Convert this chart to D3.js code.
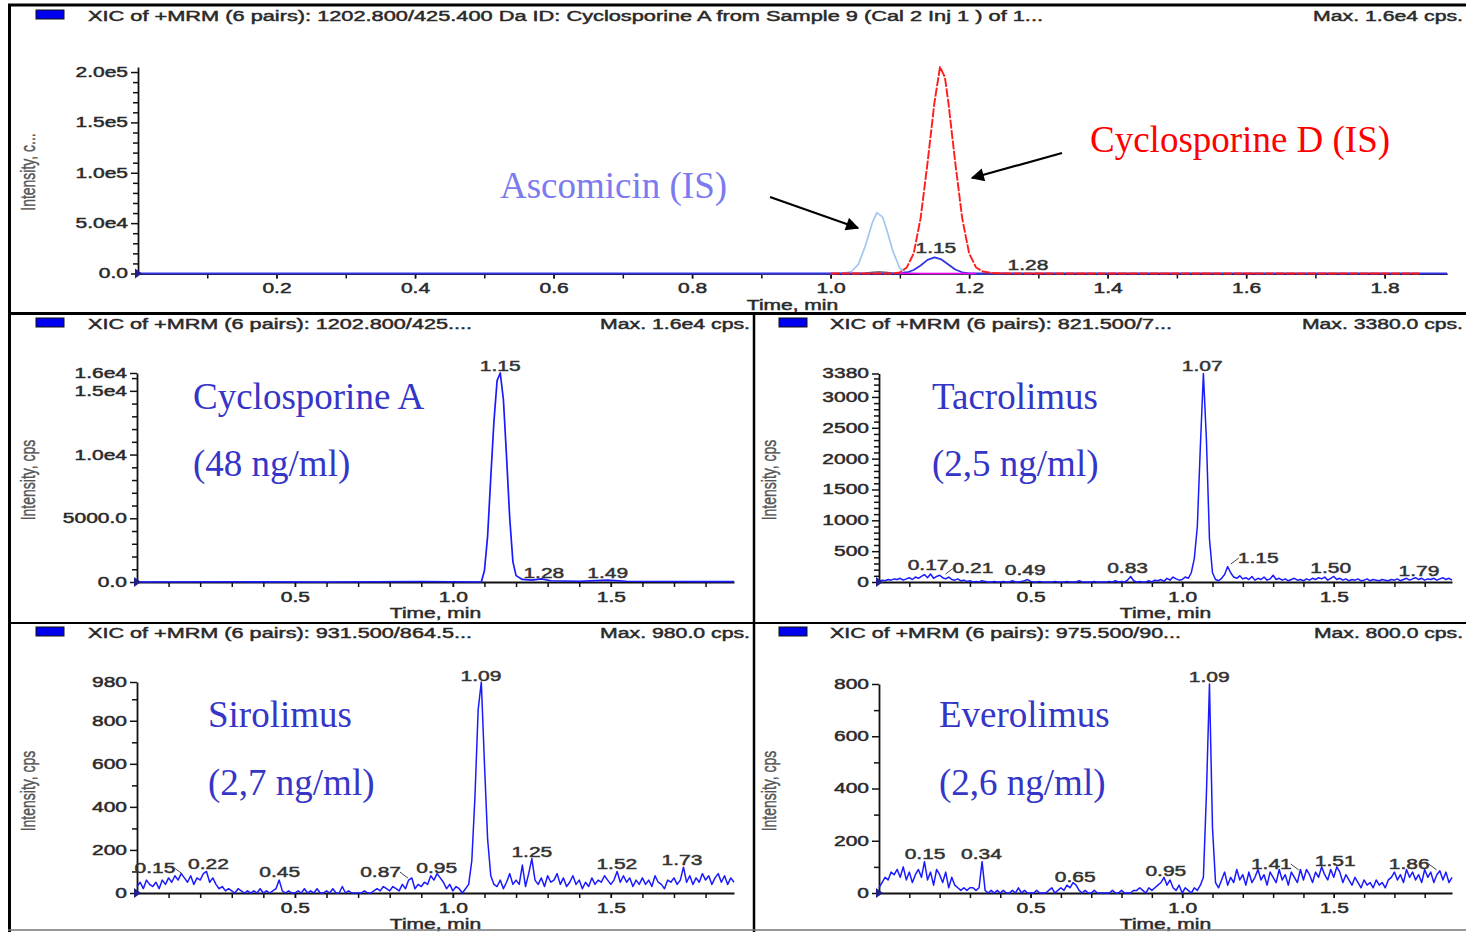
<!DOCTYPE html>
<html><head><meta charset="utf-8">
<script src="https://cdn.jsdelivr.net/npm/d3@7"></script>
<style>body{margin:0;background:#fff} svg{display:block}</style>
</head><body>
<svg id="chart" width="1466" height="932"></svg>
<script>
// ================= DATA =================
// sampling grid for the noisy MRM traces (minutes)
const sampleStart = 0.00, sampleStep = 0.01;

// Top panel (overlay of all XICs), intensity in cps
const cycloATopTimes  = [0, 1.10, 1.11, 1.12, 1.13, 1.14, 1.15, 1.16, 1.17, 1.18, 1.19, 1.20, 1.21, 1.89];
const cycloATopValues = [0, 0, 1000, 3500, 8000, 13500, 16000, 14000, 9000, 4000, 1200, 200, 0, 0];
const ascomicinTimes  = [0.90, 1.00, 1.02, 1.03, 1.04, 1.05, 1.06, 1.067, 1.075, 1.08, 1.09, 1.10, 1.11, 1.13, 1.25];
const ascomicinValues = [0, 0, 500, 2000, 9000, 27000, 50000, 60400, 56000, 46000, 22000, 5000, 800, 0, 0];
const cycloDTimes  = [1.00, 1.09, 1.10, 1.11, 1.12, 1.13, 1.14, 1.15, 1.158, 1.165, 1.17, 1.18, 1.19, 1.20, 1.21, 1.22, 1.23, 1.24, 1.26, 1.85];
const cycloDValues = [0, 0, 1000, 6000, 20000, 55000, 110000, 170000, 205000, 195000, 170000, 110000, 55000, 20000, 6000, 2000, 800, 300, 0, 0];
const grayTimes  = [1.03, 1.05, 1.06, 1.07, 1.08, 1.09, 1.10];
const grayValues = [0, 300, 1200, 1800, 1200, 300, 0];
const magentaTimes  = [1.10, 1.21];
const magentaValues = [0, 0];

// Cyclosporine A panel
const cycloATimes  = [0.00, 0.30, 0.60, 0.90, 1.09, 1.10, 1.11, 1.12, 1.13, 1.14, 1.15, 1.16, 1.17, 1.18, 1.19, 1.20, 1.22, 1.25, 1.28, 1.31, 1.40, 1.49, 1.55, 1.70, 1.89];
const cycloAValues = [0, 20, 0, 40, 0, 900, 3600, 8200, 12600, 15800, 16400, 14300, 9800, 5000, 1600, 500, 200, 150, 250, 100, 60, 150, 60, 40, 30];

// Tacrolimus (one value per 0.01 min, 0.00 .. 1.89)
const tacrolimusValues = [
 10,30,20,40,30,50,40,60,30,50,
 70,40,80,60,90,120,70,130,60,90,
 110,70,50,80,40,30,50,20,30,10,
 20,0,10,0,20,10,0,0,10,0,
 0,10,0,0,20,0,0,10,20,40,
 10,0,0,10,0,0,0,0,10,0,
 0,0,10,0,0,0,20,0,0,0,
 0,10,0,0,0,0,10,0,20,0,
 10,0,30,90,20,0,10,0,0,20,
 0,30,20,40,10,60,30,80,50,30,
 40,80,60,150,380,900,2200,3380,2300,700,
 150,40,20,60,120,250,150,80,60,100,
 50,70,40,90,30,60,40,80,30,50,
 110,40,60,30,50,20,40,60,30,40,
 20,50,30,60,40,70,50,80,30,60,
 90,40,60,30,50,20,40,30,50,20,
 30,50,20,40,30,20,40,30,20,40,
 30,50,20,40,60,30,50,70,40,60,
 30,50,40,60,30,50,70,40,60,30];

// Sirolimus
const sirolimusValues = [
 30,50,20,60,40,30,50,20,60,40,
 70,50,80,60,90,70,50,80,40,70,
 60,90,100,50,70,40,20,30,10,20,
 10,0,20,10,0,10,0,10,0,20,
 0,10,0,10,20,60,10,0,10,0,
 0,10,0,20,0,10,0,20,0,0,
 10,0,20,0,0,30,0,10,0,0,
 0,0,10,0,0,10,20,10,30,20,
 10,30,20,10,40,20,60,70,20,40,
 30,50,40,80,60,90,70,50,20,40,
 10,30,20,0,20,40,150,450,850,980,
 600,250,80,40,30,60,20,50,90,40,
 60,40,130,30,90,160,60,40,70,30,
 80,50,60,90,40,70,30,50,80,40,
 60,20,50,30,70,40,60,50,80,60,
 40,60,100,50,80,50,70,30,60,40,
 70,40,60,30,80,50,40,20,60,50,
 70,40,60,120,50,80,40,70,50,90,
 60,80,40,70,90,50,80,40,70,50];

// Everolimus
const everolimusValues = [
 20,40,60,50,80,70,90,60,100,50,
 80,40,70,90,60,120,50,80,30,90,
 70,40,80,20,60,30,20,10,20,10,
 20,20,10,20,120,10,0,10,0,10,
 0,10,0,0,10,0,20,0,10,0,
 0,0,10,0,0,0,10,20,0,10,
 20,10,30,20,40,30,10,0,10,0,
 0,10,0,0,0,0,0,10,0,0,
 10,0,0,0,10,10,20,10,0,20,
 10,20,30,40,60,30,50,20,10,30,
 0,20,10,0,20,10,30,60,380,800,
 250,40,20,50,80,30,60,40,90,50,
 70,30,80,40,60,90,50,70,30,80,
 60,40,90,50,70,30,80,60,40,90,
 50,90,70,40,80,60,100,70,50,90,
 60,100,80,40,70,50,30,60,40,20,
 50,30,40,20,50,30,40,20,50,60,
 80,50,70,40,90,60,80,50,70,40,
 90,60,80,40,70,85,50,80,40,60];

// Peak labels: [text, time, intensity, leader]
const topPeakLabels = [["1.15",1.152,20350],["1.28",1.285,3475]];
const cycloAPeakLabels = [["1.15",1.150,16557],["1.28",1.288,314],["1.49",1.490,314]];
const tacrolimusPeakLabels = [["1.07",1.066,3420],["0.17",0.162,195],["0.21",0.310,146,"left"],["0.49",0.482,113],["0.83",0.820,146],["1.15",1.251,308,"left"],["1.50",1.490,146],["1.79",1.781,97]];
const sirolimusPeakLabels = [["1.09",1.089,985],["0.15",0.057,93,"right"],["0.22",0.226,111],["0.45",0.452,74],["0.87",0.771,74,"right"],["0.95",0.949,93],["1.25",1.250,167],["1.52",1.519,111],["1.73",1.725,130]];
const everolimusPeakLabels = [["1.09",1.089,808],["0.15",0.152,130],["0.34",0.338,130],["0.65",0.647,42],["0.95",0.946,65],["1.41",1.294,92,"right"],["1.51",1.505,103],["1.86",1.749,92,"right"]];

// Axis ticks
const timeMax = 1.89;
const topXTicks = [0.2,0.4,0.6,0.8,1.0,1.2,1.4,1.6,1.8];
const topXLabels = ["0.2","0.4","0.6","0.8","1.0","1.2","1.4","1.6","1.8"];
const smallXTicks = [0.5,1.0,1.5];
const smallXLabels = ["0.5","1.0","1.5"];
const xMinorTicks = [0.1,0.2,0.3,0.4,0.5,0.6,0.7,0.8,0.9,1.0,1.1,1.2,1.3,1.4,1.5,1.6,1.7,1.8];

const topYTicks = [0,50000,100000,150000,200000];
const topYLabels = ["0.0","5.0e4","1.0e5","1.5e5","2.0e5"];
const cycloAYTicks = [0,5000,10000,15000,16400];
const cycloAYLabels = ["0.0","5000.0","1.0e4","1.5e4","1.6e4"];
const tacYTicks = [0,500,1000,1500,2000,2500,3000,3380];
const tacYLabels = ["0","500","1000","1500","2000","2500","3000","3380"];
const sirYTicks = [0,200,400,600,800,980];
const sirYLabels = ["0","200","400","600","800","980"];
const eveYTicks = [0,200,400,600,800];
const eveYLabels = ["0","200","400","600","800"];

// Headers
const headerTexts = [
 "XIC of +MRM (6 pairs): 1202.800/425.400 Da ID: Cyclosporine A from Sample 9 (Cal 2 Inj 1 ) of 1...",
 "XIC of +MRM (6 pairs): 1202.800/425....",
 "XIC of +MRM (6 pairs): 821.500/7...",
 "XIC of +MRM (6 pairs): 931.500/864.5...",
 "XIC of +MRM (6 pairs): 975.500/90..."];
const maxTexts = ["Max. 1.6e4 cps.","Max. 1.6e4 cps.","Max. 3380.0 cps.","Max. 980.0 cps.","Max. 800.0 cps."];
const yTitles = ["Intensity, c...","Intensity, cps","Intensity, cps","Intensity, cps","Intensity, cps"];

// ================= DRAWING =================
const svg = d3.select('#chart');
const STRETCH = 1.5;
const SANS = '"Liberation Sans", Arial, sans-serif';
const SERIF = '"Liberation Serif", "Times New Roman", serif';
const TXT = '#2a2a2a';
const TXT_STROKE = 0.45;

const grid = vals => vals.map((v,i) => [+(sampleStart + i*sampleStep).toFixed(2), v]);
const pairs = (ts, vs) => d3.zip(ts, vs);

function sText(g, x, y, str, anchor, size=14, fill=TXT) {
  return g.append('text')
    .attr('transform', `translate(${x},${y}) scale(${STRETCH},1)`)
    .attr('text-anchor', anchor).attr('font-family', SANS)
    .attr('font-size', size).attr('fill', fill)
    .attr('stroke', fill).attr('stroke-width', TXT_STROKE).text(str);
}

const panels = [
 {key:'top', px:[138,1447], py:[273.5,67], yMax:205000, xT:topXTicks, xL:topXLabels, yT:topYTicks, yL:topYLabels, yMinor:10000,
  sq:[36,10], hx:[88,1043], hy:21, mx:[1313,1463], title:[28,172], labels:topPeakLabels},
 {key:'ml', px:[137,734], py:[582,373], yMax:16400, xT:smallXTicks, xL:smallXLabels, yT:cycloAYTicks, yL:cycloAYLabels, yMinor:1000,
  sq:[36,318], hx:[88,472], hy:329, mx:[600,750], title:[28,480], labels:cycloAPeakLabels},
 {key:'mr', px:[879,1452], py:[582,373.5], yMax:3380, xT:smallXTicks, xL:smallXLabels, yT:tacYTicks, yL:tacYLabels, yMinor:100,
  sq:[779,318], hx:[830,1172], hy:329, mx:[1302,1463], title:[769,480], labels:tacrolimusPeakLabels},
 {key:'bl', px:[137,734], py:[893,682], yMax:980, xT:smallXTicks, xL:smallXLabels, yT:sirYTicks, yL:sirYLabels, yMinor:100,
  sq:[36,627], hx:[88,472], hy:638, mx:[600,750], title:[28,791], labels:sirolimusPeakLabels},
 {key:'br', px:[879,1452], py:[893,684], yMax:800, xT:smallXTicks, xL:smallXLabels, yT:eveYTicks, yL:eveYLabels, yMinor:100,
  sq:[779,627], hx:[830,1181], hy:638, mx:[1314,1463], title:[769,791], labels:everolimusPeakLabels},
];

const traces = {
 top: [
  {pts: pairs(ascomicinTimes, ascomicinValues), color:'#a2c6f0', w:1.7},
  {pts: pairs(grayTimes, grayValues), color:'#777', w:1.5},
  {pts: pairs(cycloATopTimes, cycloATopValues), color:'#3434e6', w:1.8},
  {pts: pairs(cycloDTimes, cycloDValues), color:'#ff1c1c', w:1.9, dash:'9,1.5'},
  {pts: pairs(magentaTimes, magentaValues), color:'#ff00ff', w:1.7}],
 ml: [{pts: pairs(cycloATimes, cycloAValues), color:'#1a1aff', w:1.7}],
 mr: [{pts: grid(tacrolimusValues), color:'#1a1aff', w:1.5}],
 bl: [{pts: grid(sirolimusValues), color:'#1a1aff', w:1.5}],
 br: [{pts: grid(everolimusValues), color:'#1a1aff', w:1.5}],
};

panels.forEach((p, idx) => {
  const g = svg.append('g');
  const x = d3.scaleLinear().domain([0, timeMax]).range(p.px);
  const y = d3.scaleLinear().domain([0, p.yMax]).range(p.py);

  // header
  g.append('rect').attr('x', p.sq[0]).attr('y', p.sq[1]).attr('width', 28).attr('height', 9)
    .attr('fill', '#0000f0').attr('stroke', '#111').attr('stroke-width', 1);
  g.append('text').attr('x', p.hx[0]).attr('y', p.hy).attr('font-family', SANS).attr('font-size', 14)
    .attr('fill', TXT).attr('stroke', TXT).attr('stroke-width', TXT_STROKE)
    .attr('textLength', p.hx[1]-p.hx[0]).attr('lengthAdjust','spacingAndGlyphs').text(headerTexts[idx]);
  g.append('text').attr('x', p.mx[0]).attr('y', p.hy).attr('font-family', SANS).attr('font-size', 14)
    .attr('fill', TXT).attr('stroke', TXT).attr('stroke-width', TXT_STROKE)
    .attr('textLength', p.mx[1]-p.mx[0]).attr('lengthAdjust','spacingAndGlyphs').text(maxTexts[idx]);

  // y title
  g.append('text')
    .attr('transform', `translate(${p.title[0]},${p.title[1]}) scale(${STRETCH},1) rotate(-90)`)
    .attr('text-anchor','middle').attr('dy','0.35em').attr('font-family', SANS).attr('font-size', 14)
    .attr('fill', '#555').attr('stroke', '#555').attr('stroke-width', 0.3).text(yTitles[idx]);

  // y minor ticks
  const yMinorVals = d3.range(p.yMinor, p.yMax, p.yMinor).filter(v => !p.yT.includes(v));
  g.append('g').attr('transform', `translate(${p.px[0]},0)`)
    .call(d3.axisLeft(y).tickValues(yMinorVals).tickSize(5).tickFormat('').tickSizeOuter(0))
    .call(a => a.select('.domain').remove())
    .call(a => a.selectAll('line').attr('stroke', '#111').attr('stroke-width', 1.5));
  // y major
  g.append('g').attr('transform', `translate(${p.px[0]},0)`)
    .call(d3.axisLeft(y).tickValues(p.yT).tickSize(7).tickPadding(3).tickSizeOuter(0)
      .tickFormat((d,i) => p.yL[i]))
    .call(a => a.select('.domain').attr('stroke', '#111').attr('stroke-width', 1.8))
    .call(a => a.selectAll('line').attr('stroke', '#111').attr('stroke-width', 1.5))
    .call(a => a.selectAll('text').attr('font-family', SANS).attr('font-size', 14).attr('fill', TXT)
      .attr('stroke', TXT).attr('stroke-width', TXT_STROKE)
      .attr('transform', `scale(${STRETCH},1)`).attr('x', -10/STRETCH));

  // x minor
  g.append('g').attr('transform', `translate(0,${p.py[0]})`)
    .call(d3.axisBottom(x).tickValues(xMinorTicks).tickSize(5).tickFormat('').tickSizeOuter(0))
    .call(a => a.select('.domain').attr('stroke', '#111').attr('stroke-width', 1.8))
    .call(a => a.selectAll('line').attr('stroke', '#111').attr('stroke-width', 1.5));
  // x labels
  g.append('g').attr('transform', `translate(0,${p.py[0]})`)
    .call(d3.axisBottom(x).tickValues(p.xT).tickSize(5).tickPadding(5).tickSizeOuter(0)
      .tickFormat((d,i) => p.xL[i]))
    .call(a => a.select('.domain').remove())
    .call(a => a.selectAll('line').attr('stroke', '#111').attr('stroke-width', 1.5))
    .call(a => a.selectAll('text').attr('font-family', SANS).attr('font-size', 14).attr('fill', TXT)
      .attr('stroke', TXT).attr('stroke-width', TXT_STROKE)
      .attr('transform', `scale(${STRETCH},1)`));

  // x title
  sText(g, (p.px[0]+p.px[1])/2, p.py[0]+36, 'Time, min', 'middle');

  // traces
  const line = d3.line().x(d => x(d[0])).y(d => y(d[1]));
  traces[p.key].forEach(t => {
    g.append('path').attr('d', line(t.pts)).attr('fill','none').attr('stroke', t.color)
      .attr('stroke-width', t.w).attr('stroke-linejoin','round')
      .attr('stroke-dasharray', t.dash || null);
  });

  // origin marker
  g.append('path')
    .attr('d', `M${p.px[0]-3},${p.py[0]-5} L${p.px[0]+4},${p.py[0]} L${p.px[0]-3},${p.py[0]+5} Z`)
    .attr('fill', '#20208a');

  // peak labels
  p.labels.forEach(l => {
    const cx = x(l[1]), by = y(l[2]);
    const t = sText(g, cx, by, l[0], 'middle', 14, '#333');
    if (l[3]) {
      const w = t.node().getComputedTextLength() * STRETCH;
      if (l[3] === 'right') {
        g.append('line').attr('x1', cx + w/2 - 1).attr('y1', by - 5).attr('x2', cx + w/2 + 7).attr('y2', by + 1)
          .attr('stroke', '#444').attr('stroke-width', 1);
      } else {
        g.append('line').attr('x1', cx - w/2 + 1).attr('y1', by - 5).attr('x2', cx - w/2 - 7).attr('y2', by + 1)
          .attr('stroke', '#444').attr('stroke-width', 1);
      }
    }
  });
});

// ================= ANNOTATIONS =================
const annotations = [
 {text:'Ascomicin (IS)', x:500, y:198, color:'#7b7bef'},
 {text:'Cyclosporine D (IS)', x:1090, y:152, color:'#ff0000'},
 {text:'Cyclosporine A', x:193, y:409, color:'#3535c8'},
 {text:'(48 ng/ml)', x:193, y:476, color:'#3535c8'},
 {text:'Tacrolimus', x:932, y:409, color:'#3535c8'},
 {text:'(2,5 ng/ml)', x:932, y:476, color:'#3535c8'},
 {text:'Sirolimus', x:208, y:727, color:'#3535c8'},
 {text:'(2,7 ng/ml)', x:208, y:795, color:'#3535c8'},
 {text:'Everolimus', x:939, y:727, color:'#3535c8'},
 {text:'(2,6 ng/ml)', x:939, y:795, color:'#3535c8'},
];
annotations.forEach(a => {
  svg.append('text').attr('x', a.x).attr('y', a.y).attr('font-family', SERIF).attr('font-size', 37)
    .attr('fill', a.color).text(a.text);
});

svg.append('defs').append('marker').attr('id','ah').attr('viewBox','0 0 10 10')
  .attr('refX', 9).attr('refY', 5).attr('markerWidth', 7).attr('markerHeight', 6)
  .attr('orient','auto').attr('markerUnits','strokeWidth')
  .append('path').attr('d','M0,0 L10,5 L0,10 Z').attr('fill','#000');
const arrows = [[770,197,858,228],[1062,153,972,178]];
arrows.forEach(a => {
  svg.append('line').attr('x1',a[0]).attr('y1',a[1]).attr('x2',a[2]).attr('y2',a[3])
    .attr('stroke','#000').attr('stroke-width',2.2).attr('marker-end','url(#ah)');
});

// ================= FRAMES =================
const frame = svg.append('g').attr('stroke', '#000');
frame.append('line').attr('x1',8).attr('y1',5).attr('x2',1466).attr('y2',5).attr('stroke-width',3);
frame.append('line').attr('x1',9.5).attr('y1',4).attr('x2',9.5).attr('y2',932).attr('stroke-width',3);
frame.append('line').attr('x1',8).attr('y1',313.5).attr('x2',1466).attr('y2',313.5).attr('stroke-width',3);
frame.append('line').attr('x1',754).attr('y1',313).attr('x2',754).attr('y2',932).attr('stroke-width',2.5);
frame.append('line').attr('x1',8).attr('y1',623).attr('x2',1466).attr('y2',623).attr('stroke-width',2);
frame.append('line').attr('x1',8).attr('y1',930).attr('x2',1466).attr('y2',930).attr('stroke-width',1.5).attr('stroke','#777');
</script>
</body></html>
